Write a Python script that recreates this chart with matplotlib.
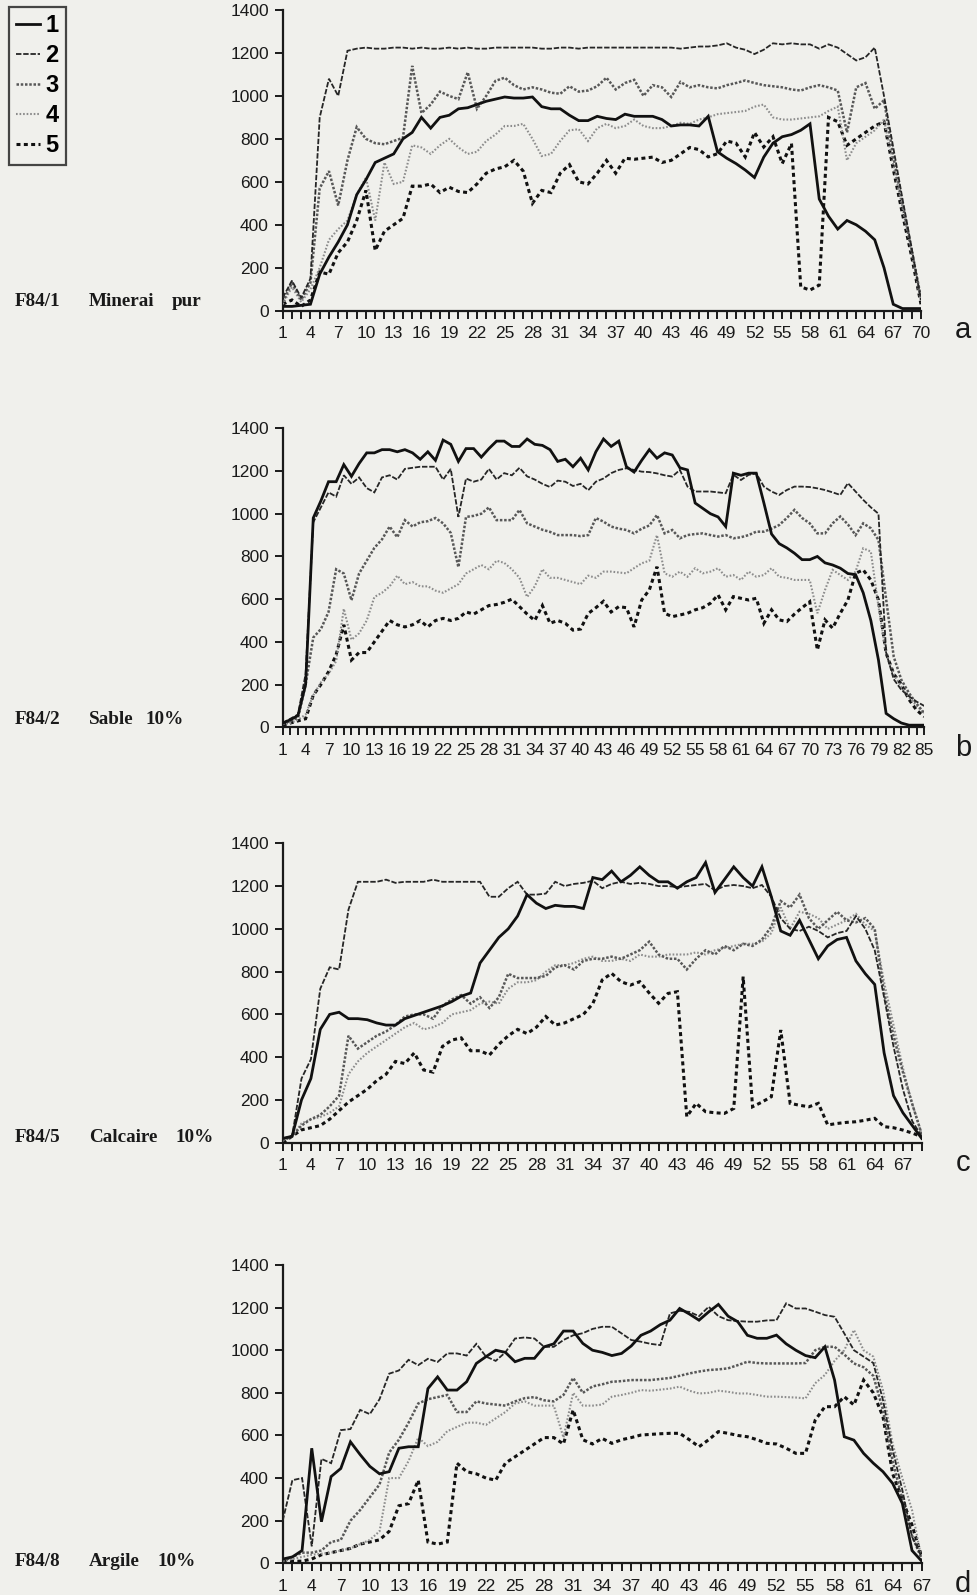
import matplotlib
matplotlib.use('Agg')
import matplotlib.pyplot as plt
from matplotlib.lines import Line2D

W, H = 978, 1595

# ---------------- data ----------------
# panel a : F84/1 Minerai pur  (x = 1..70)
a_s1 = [20, 20, 25, 30, 170, 250, 320, 400, 540, 610, 690, 710, 730, 800, 830, 900, 850, 900, 910, 940,
        945, 960, 975, 985, 995, 990, 990, 995, 950, 940, 940, 910, 885, 885, 905, 895, 890, 915, 905, 905,
        905, 890, 860, 865, 865, 860, 905, 740, 710, 685, 655, 620, 715, 780, 810, 820, 840, 870, 520, 440,
        380, 420, 400, 370, 330, 200, 30, 10, 10, 10]
a_s2 = [60, 140, 60, 150, 900, 1080, 1000, 1210, 1220, 1225, 1220, 1220, 1225, 1225, 1220, 1225, 1220, 1220, 1225, 1220,
        1225, 1220, 1220, 1225, 1225, 1225, 1225, 1225, 1220, 1220, 1225, 1225, 1220, 1225, 1225, 1225, 1225, 1225, 1225, 1225,
        1225, 1225, 1225, 1220, 1225, 1230, 1230, 1235, 1245, 1225, 1215, 1195, 1215, 1245, 1240, 1245, 1240, 1240, 1220, 1240,
        1225, 1195, 1165, 1180, 1225, 1000, 760, 520, 290, 50]
a_s3 = [40, 130, 50, 130, 570, 650, 490, 700, 855, 800, 780, 775, 790, 805, 1140, 920, 960, 1020, 1000, 985,
        1110, 940, 1000, 1070, 1085, 1050, 1030, 1040, 1030, 1015, 1010, 1045, 1020, 1025, 1045, 1085, 1030, 1060, 1075, 1000,
        1050, 1040, 995, 1065, 1040, 1050, 1040, 1035, 1050, 1060, 1072, 1060, 1050, 1045, 1040, 1030, 1025, 1040, 1050, 1040,
        1025, 830, 1040, 1060, 940, 980, 720, 500, 280, 60]
a_s4 = [30, 110, 40, 100, 200, 330, 380, 420, 540, 620, 420, 690, 590, 600, 770, 760, 730, 770, 800, 760,
        730, 740, 790, 820, 860, 860, 870, 800, 720, 730, 790, 840, 845, 790, 850, 870, 850, 860, 890, 860,
        850, 850, 860, 875, 870, 890, 900, 915, 920, 925, 930, 950, 960, 900, 890, 890, 895, 900, 905, 930,
        950, 700, 780, 810, 840, 890, 680, 480, 270, 40]
a_s5 = [30, 50, 20, 50, 180, 170, 270, 320, 420, 560, 280, 370, 400, 430, 580, 580, 590, 550, 575, 555,
        550, 590, 640, 660, 670, 700, 650, 500, 560, 550, 640, 680, 600, 590, 640, 700, 640, 710, 705, 710,
        715, 690, 700, 730, 760, 750, 716, 731, 790, 780, 716, 830, 762, 810, 685, 778, 111, 96, 119, 900,
        880, 770, 800, 830, 860, 880, 660, 450, 250, 30]

# panel b : F84/2 Sable 10%  (x = 1..85)
b_s1 = [20, 35, 55, 200, 980, 1060, 1150, 1150, 1230, 1175, 1235, 1285, 1285, 1300, 1300, 1290, 1300, 1285, 1255, 1290,
        1250, 1345, 1325, 1245, 1305, 1305, 1265, 1305, 1340, 1340, 1315, 1315, 1350, 1325, 1320, 1300, 1245, 1255, 1220, 1260,
        1205, 1290, 1350, 1315, 1340, 1220, 1195, 1250, 1300, 1260, 1285, 1275, 1215, 1205, 1050, 1025, 1000, 985, 940, 1190,
        1180, 1190, 1190, 1050, 905, 860, 840, 815, 785, 785, 800, 770, 760, 745, 720, 715, 630, 500, 315, 65,
        40, 20, 10, 10, 10]
b_s2 = [20, 40, 60, 250, 960, 1030, 1100, 1080, 1180, 1140, 1170, 1120, 1100, 1170, 1180, 1160, 1210, 1215, 1220, 1220,
        1220, 1160, 1210, 985, 1165, 1150, 1160, 1210, 1160, 1190, 1180, 1215, 1175, 1160, 1140, 1125, 1155, 1150, 1130, 1140,
        1110, 1150, 1165, 1190, 1205, 1213, 1205, 1197, 1195, 1189, 1180, 1174, 1205, 1127, 1104, 1104, 1104, 1100, 1096, 1182,
        1158, 1182, 1189, 1127, 1104, 1088, 1111, 1127, 1127, 1125, 1119, 1111, 1100, 1088, 1143, 1104, 1065, 1030, 1000, 350,
        225, 175, 145, 120, 100]
b_s3 = [15, 30, 45, 200, 420, 460, 540, 740, 720, 595, 720, 780, 840, 880, 940, 890, 970, 940, 960, 965,
        980, 955, 910, 750, 985, 990, 1000, 1030, 970, 970, 970, 1018, 955, 940, 925, 915, 900, 900, 900, 895,
        900, 980, 963, 940, 930, 924, 908, 930, 945, 994, 908, 924, 885, 900, 905, 908, 900, 893, 900, 885,
        890, 900, 916, 916, 930, 947, 980, 1018, 980, 955, 908, 908, 955, 987, 950, 900, 955, 932, 877, 600,
        330, 222, 160, 110, 66]
b_s4 = [15, 20, 35, 60, 150, 210, 250, 310, 555, 410, 440, 500, 610, 630, 660, 710, 670, 680, 660, 660,
        640, 630, 650, 670, 720, 740, 760, 740, 780, 770, 740, 700, 610, 660, 740, 700, 700, 690, 680, 670,
        710, 700, 729, 729, 725, 721, 745, 768, 780, 900, 721, 705, 729, 705, 745, 721, 729, 745, 705, 713,
        690, 729, 705, 713, 745, 705, 700, 690, 690, 690, 534, 643, 737, 713, 690, 729, 838, 823, 565, 347,
        250, 190, 140, 100, 66]
b_s5 = [10, 20, 30, 40, 150, 200, 260, 340, 480, 315, 350, 350, 400, 450, 500, 480, 470, 480, 500, 470,
        500, 510, 500, 510, 540, 530, 550, 570, 575, 585, 600, 565, 530, 500, 570, 487, 500, 487, 455, 460,
        533, 560, 590, 540, 565, 560, 470, 596, 643, 752, 534, 518, 526, 534, 550, 560, 581, 620, 550, 612,
        604, 596, 604, 487, 550, 503, 495, 530, 560, 588, 362, 503, 464, 534, 596, 721, 737, 690, 596, 347,
        250, 200, 130, 80, 50]

# panel c : F84/5 Calcaire 10%  (x = 1..69)
c_s1 = [20, 30, 200, 300, 530, 600, 610, 580, 580, 575, 560, 550, 550, 580, 595, 610, 625, 640, 660, 685,
        700, 840, 900, 960, 1000, 1060, 1160, 1120, 1095, 1110, 1105, 1105, 1095, 1240, 1230, 1270, 1220, 1250, 1290, 1250,
        1220, 1220, 1190, 1220, 1240, 1310, 1170, 1230, 1290, 1240, 1200, 1290, 1150, 990, 970, 1040, 950, 860, 920, 950,
        960, 850, 790, 740, 420, 220, 140, 80, 20]
c_s2 = [20, 30, 300, 390, 720, 820, 810, 1090, 1220, 1220, 1220, 1230, 1215, 1220, 1220, 1220, 1230, 1220, 1220, 1220,
        1220, 1220, 1150, 1150, 1190, 1220, 1160, 1160, 1165, 1220, 1200, 1210, 1215, 1225, 1190, 1210, 1220, 1210, 1215, 1210,
        1200, 1200, 1195, 1200, 1205, 1210, 1180, 1200, 1205, 1200, 1190, 1205, 1150, 1050, 1000, 990, 1010, 990, 960, 980,
        990, 1060, 1000, 900, 680, 450, 250, 100, 30]
c_s3 = [10, 30, 80, 110, 130, 170, 220, 500, 440, 470, 500, 520, 550, 590, 600, 600, 580, 640, 670, 690,
        650, 680, 630, 680, 790, 770, 770, 770, 780, 820, 830, 810, 850, 860, 860, 870, 860, 880, 900, 940,
        880, 860, 860, 810, 860, 900, 880, 920, 900, 930, 920, 950, 1010, 1130, 1100, 1160, 1050, 1000, 1040, 1080,
        1040, 1030, 1050, 1000, 700, 500, 330, 180, 40]
c_s4 = [10, 30, 90, 110, 120, 140, 170, 320, 380, 420, 450, 480, 510, 540, 560, 530, 540, 560, 600, 610,
        620, 650, 660, 650, 720, 750, 750, 760, 800, 830, 830, 840, 860, 870, 850, 850, 860, 850, 880, 870,
        870, 880, 880, 880, 890, 880, 900, 910, 920, 930, 930, 940, 980, 1100, 1000, 1080, 1070, 1050, 1000, 1020,
        1040, 1070, 1020, 990, 750, 550, 350, 180, 40]
c_s5 = [0, 30, 60, 70, 80, 110, 150, 190, 220, 250, 290, 320, 380, 370, 420, 340, 330, 450, 480, 490,
        430, 430, 410, 460, 500, 530, 510, 540, 590, 550, 560, 580, 600, 650, 761, 792, 753, 737, 753, 700,
        652, 698, 706, 122, 184, 145, 140, 137, 160, 776, 168, 190, 215, 527, 184, 175, 168, 184, 83, 90,
        95, 98, 105, 114, 75, 70, 59, 45, 28]

# panel d : F84/8 Argile 10%  (x = 1..67)
d_s1 = [20, 30, 60, 540, 195, 407, 445, 570, 510, 455, 420, 430, 540, 547, 547, 820, 875, 813, 813, 852,
        938, 970, 1000, 990, 946, 962, 962, 1016, 1030, 1090, 1090, 1032, 1000, 990, 975, 985, 1020, 1070, 1090, 1120,
        1141, 1196, 1170, 1141, 1180, 1215, 1160, 1134, 1070, 1056, 1056, 1071, 1030, 1000, 975, 965, 1016, 860, 594, 578,
        516, 470, 430, 375, 281, 60, 10]
d_s2 = [200, 390, 400, 80, 490, 470, 625, 630, 720, 700, 770, 890, 905, 955, 930, 960, 945, 985, 985, 975,
        1030, 970, 950, 990, 1055, 1060, 1055, 1016, 1016, 1048, 1070, 1080, 1100, 1110, 1110, 1079, 1048, 1040, 1030, 1024,
        1173, 1185, 1180, 1160, 1204, 1160, 1141, 1137, 1134, 1134, 1140, 1141, 1220, 1196, 1196, 1181, 1165, 1157, 1079, 1000,
        970, 940, 766, 532, 344, 125, 31]
d_s3 = [10, 30, 50, 50, 60, 100, 110, 200, 250, 310, 370, 520, 580, 660, 750, 770, 780, 790, 710, 710,
        760, 750, 745, 740, 760, 775, 780, 765, 760, 790, 870, 800, 830, 840, 852, 855, 860, 860, 860, 865,
        870, 880, 891, 900, 907, 910, 915, 930, 946, 940, 938, 938, 938, 938, 940, 1000, 1016, 1016, 980, 938,
        920, 880, 720, 480, 300, 130, 20]
d_s4 = [10, 20, 30, 40, 45, 50, 60, 70, 90, 110, 150, 400, 400, 480, 590, 550, 570, 620, 640, 660,
        660, 650, 680, 710, 750, 760, 740, 740, 740, 590, 800, 740, 740, 745, 782, 790, 800, 813, 810, 815,
        820, 829, 810, 797, 800, 810, 805, 797, 797, 790, 782, 782, 780, 778, 774, 845, 884, 950, 1000, 1095,
        1000, 970, 813, 560, 400, 250, 15]
d_s5 = [10, 10, 10, 20, 40, 50, 60, 70, 90, 100, 110, 150, 270, 280, 390, 100, 90, 100, 470, 430,
        420, 400, 390, 470, 500, 530, 560, 590, 590, 560, 720, 580, 560, 586, 563, 580, 590, 602, 605, 608,
        610, 610, 580, 547, 580, 618, 610, 600, 594, 580, 563, 560, 540, 516, 516, 672, 735, 735, 782, 743,
        860, 800, 688, 420, 300, 180, 31]

series_names = ['1', '2', '3', '4', '5']
y_ticks = [0, 200, 400, 600, 800, 1000, 1200, 1400]

# ---------------- styling ----------------
BG = '#f0f0ec'
styles = [
    dict(color='#111111', lw=2.0, ls='-'),
    dict(color='#262626', lw=1.3, ls=(0, (3.0, 1.0))),
    dict(color='#585858', lw=1.8, ls=(0, (1.0, 0.7))),
    dict(color='#8c8c8c', lw=1.5, ls=(0, (0.8, 0.9))),
    dict(color='#111111', lw=2.2, ls=(0, (1.3, 1.1))),
]

plt.rcParams['font.family'] = ['Liberation Sans', 'DejaVu Sans']

fig = plt.figure(figsize=(W / 100, H / 100), dpi=100)
fig.patch.set_facecolor(BG)

panels = [
    dict(data=[a_s1, a_s2, a_s3, a_s4, a_s5], box=(282.7, 921.0, 10.0, 310.7),
         code='F84/1', name='Minerai', extra='pur', extra_x=172, label_y=302, letter='a', letter_y=330),
    dict(data=[b_s1, b_s2, b_s3, b_s4, b_s5], box=(282.7, 924.3, 428.3, 727.3),
         code='F84/2', name='Sable', extra='10%', extra_x=146, label_y=720, letter='b', letter_y=748),
    dict(data=[c_s1, c_s2, c_s3, c_s4, c_s5], box=(282.7, 921.7, 843.3, 1142.7),
         code='F84/5', name='Calcaire', extra='10%', extra_x=176, label_y=1137, letter='c', letter_y=1163),
    dict(data=[d_s1, d_s2, d_s3, d_s4, d_s5], box=(282.7, 921.7, 1265.0, 1563.3),
         code='F84/8', name='Argile', extra='10%', extra_x=158, label_y=1562, letter='d', letter_y=1584),
]

for p in panels:
    l, r, t, b = p['box']
    ax = fig.add_axes([l / W, 1 - b / H, (r - l) / W, (b - t) / H])
    ax.set_facecolor('none')
    n = len(p['data'][0])
    xs = list(range(1, n + 1))
    for k in [4, 3, 2, 1, 0]:
        st = styles[k]
        ax.plot(xs, p['data'][k], color=st['color'], lw=st['lw'], linestyle=st['ls'],
                solid_joinstyle='miter', dash_joinstyle='miter', zorder=3 + (4 - k) * 0.1)
    ax.set_xlim(1, n)
    ax.set_ylim(0, 1400)
    for s in ['top', 'right']:
        ax.spines[s].set_visible(False)
    for s in ['left', 'bottom']:
        ax.spines[s].set_linewidth(1.6)
        ax.spines[s].set_color('#1a1a1a')
    ax.set_yticks(y_ticks)
    ax.set_yticklabels([str(v) for v in y_ticks])
    ax.set_xticks(xs)
    ax.set_xticklabels([str(v) if (v - 1) % 3 == 0 else '' for v in xs])
    ax.tick_params(axis='x', direction='out', length=6, width=1.4, pad=5,
                   labelsize=12.5, colors='#1a1a1a')
    ax.tick_params(axis='y', direction='out', length=6, width=1.4, pad=4,
                   labelsize=12.5, colors='#1a1a1a')
    # left-hand sample label
    yl = 1 - p['label_y'] / H
    fig.text(15 / W, yl, p['code'], family='Liberation Serif', weight='bold', fontsize=13.8,
             va='center', ha='left', color='#1a1a1a')
    fig.text(89 / W, yl, p['name'], family='Liberation Serif', weight='bold', fontsize=13.8,
             va='center', ha='left', color='#1a1a1a')
    fig.text(p['extra_x'] / W, yl, p['extra'], family='Liberation Serif', weight='bold', fontsize=13.8,
             va='center', ha='left', color='#1a1a1a')
    # panel letter
    fig.text(963 / W, 1 - p['letter_y'] / H, p['letter'], family='Liberation Sans', fontsize=21,
             va='center', ha='center', color='#1a1a1a')

handles = [Line2D([], [], color=st['color'], lw=st['lw'], linestyle=st['ls']) for st in styles]
leg = fig.legend(handles, series_names, loc='upper left', bbox_to_anchor=(9 / W, 1 - 7 / H),
                 frameon=True, fancybox=False, edgecolor='#1a1a1a', facecolor='none',
                 prop=dict(family='Liberation Sans', weight='bold', size=17),
                 handlelength=1.0, handletextpad=0.25, labelspacing=0.3, borderpad=0.3,
                 borderaxespad=0)
leg.get_frame().set_linewidth(1.6)

fig.savefig('out.png', dpi=100, facecolor=BG)
